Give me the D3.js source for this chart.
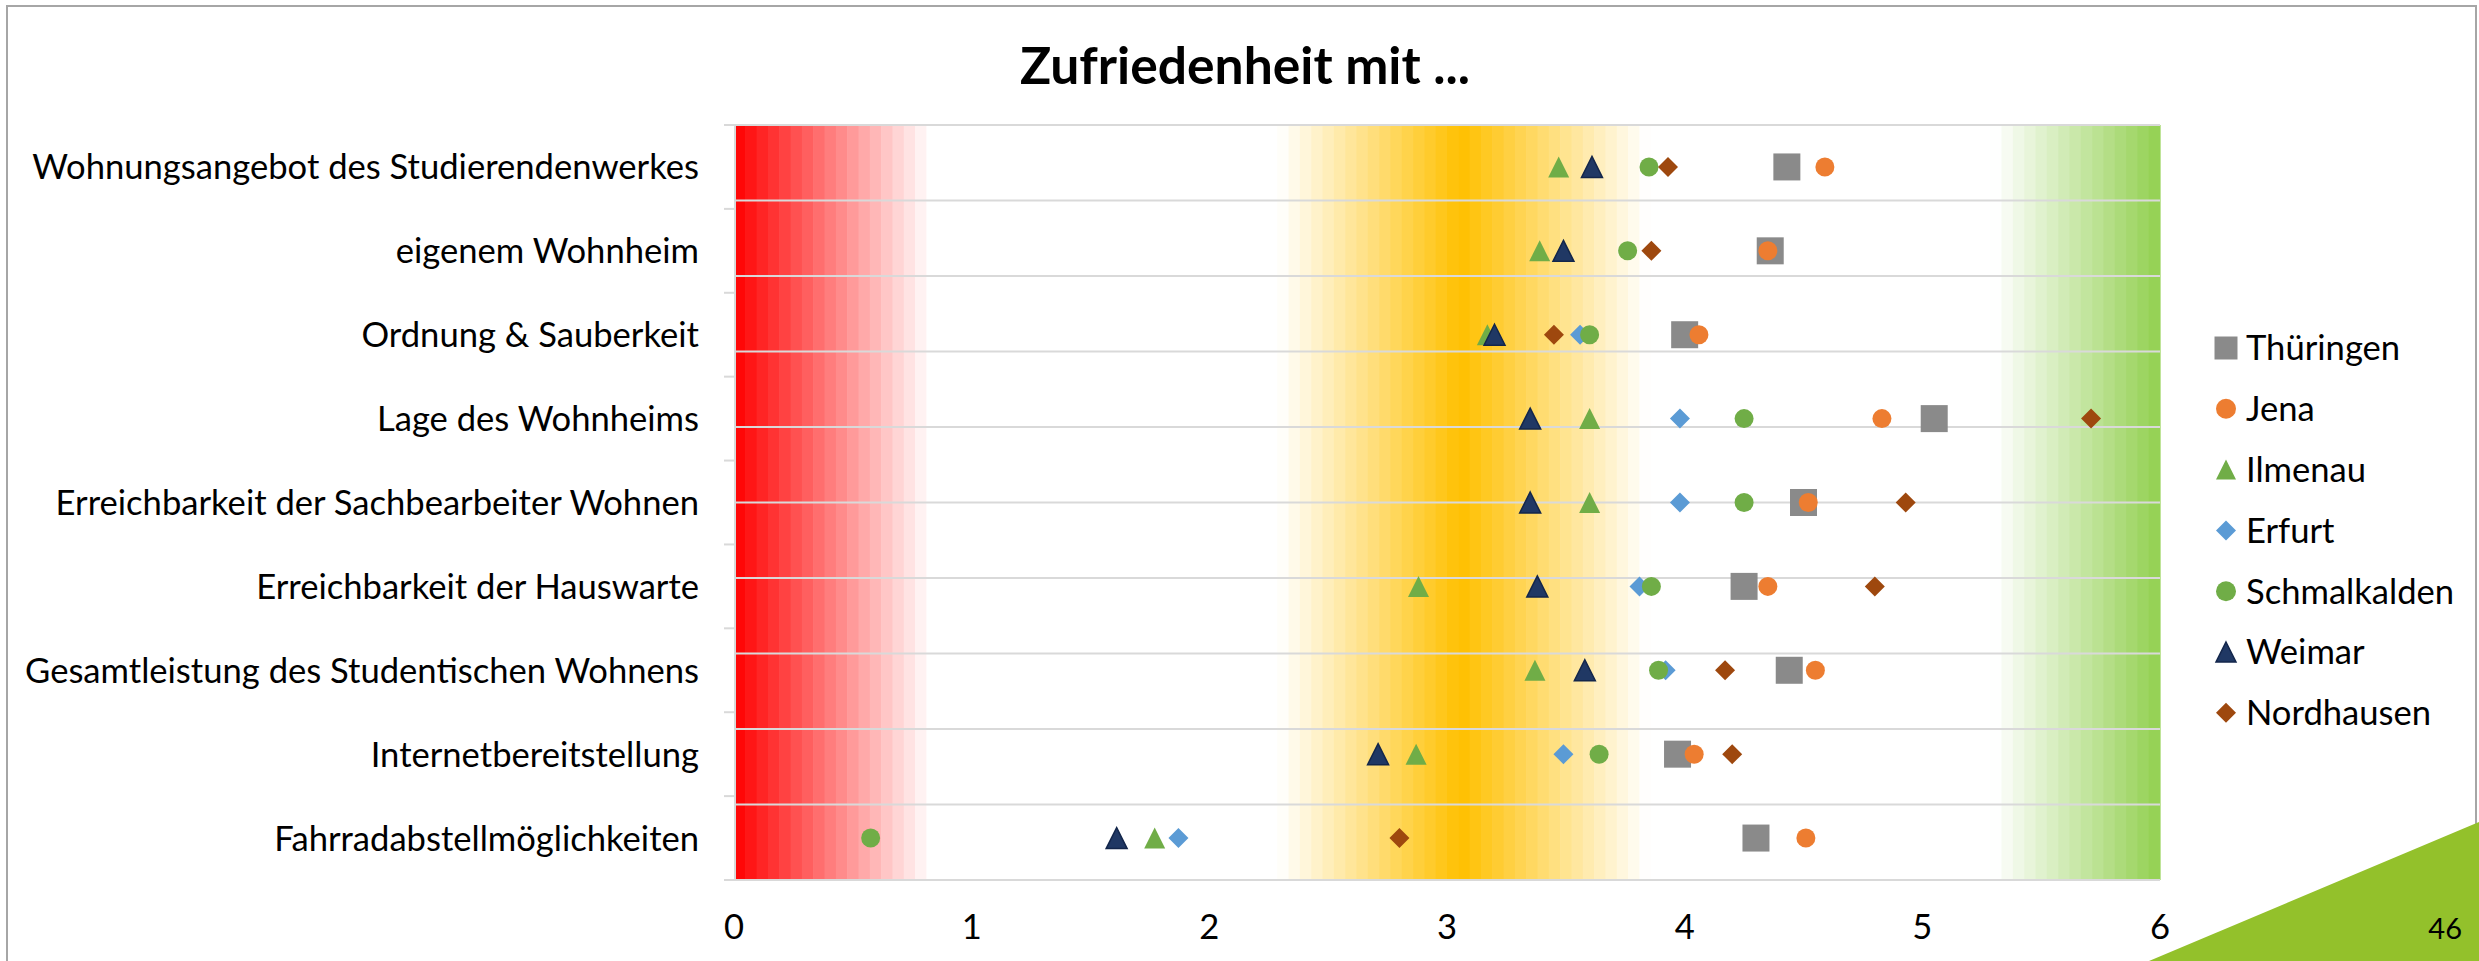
<!DOCTYPE html>
<html>
<head>
<meta charset="utf-8">
<script src="https://cdn.jsdelivr.net/npm/d3@7"></script>
<style>
  html, body { margin: 0; padding: 0; background: #ffffff; }
  svg { display: block; }
</style>
</head>
<body>
<svg id="chart" width="2479" height="961"></svg>
<script>
// ---- data -----------------------------------------------------------------
const chartTitle = "Zufriedenheit mit ...";
const pageNumber = "46";

const categories = [
  "Wohnungsangebot des Studierendenwerkes",
  "eigenem Wohnheim",
  "Ordnung & Sauberkeit",
  "Lage des Wohnheims",
  "Erreichbarkeit der Sachbearbeiter Wohnen",
  "Erreichbarkeit der Hauswarte",
  "Gesamtleistung des Studentischen Wohnens",
  "Internetbereitstellung",
  "Fahrradabstellmöglichkeiten"
];

const seriesNames = ["Thüringen", "Jena", "Ilmenau", "Erfurt", "Schmalkalden", "Weimar", "Nordhausen"];

const thueringen   = [4.43, 4.36, 4.00, 5.05, 4.50, 4.25, 4.44, 3.97, 4.30];
const jena         = [4.59, 4.35, 4.06, 4.83, 4.52, 4.35, 4.55, 4.04, 4.51];
const ilmenau      = [3.47, 3.39, 3.17, 3.60, 3.60, 2.88, 3.37, 2.87, 1.77];
const erfurt       = [null, null, 3.56, 3.98, 3.98, 3.81, 3.92, 3.49, 1.87];
const schmalkalden = [3.85, 3.76, 3.60, 4.25, 4.25, 3.86, 3.89, 3.64, 0.575];
const weimar       = [3.61, 3.49, 3.20, 3.35, 3.35, 3.38, 3.58, 2.71, 1.61];
const nordhausen   = [3.93, 3.86, 3.45, 5.71, 4.93, 4.80, 4.17, 4.20, 2.80];

const xTicks = [0, 1, 2, 3, 4, 5, 6];

// ---- styles ---------------------------------------------------------------
const seriesValues = [thueringen, jena, ilmenau, erfurt, schmalkalden, weimar, nordhausen];
const seriesColors = ["#8a8a8a", "#ed7d31", "#70ad47", "#5b9bd5", "#70ad47", "#203864", "#9e480e"];
const seriesStroke = [null, null, null, null, null, "#13264b", null];
const seriesShapes = ["square", "circle", "triangle", "diamond", "circle", "triangle", "diamond"];
const plotSizes    = { square: 27, circle: 19, triangle: 21, diamond: 20 };
const legendSizes  = { square: 23, circle: 20, triangle: 20, diamond: 20 };

const series = seriesNames.map((name, i) => ({
  name, values: seriesValues[i], color: seriesColors[i], stroke: seriesStroke[i], shape: seriesShapes[i]
}));

const FONT = "Lato, 'Open Sans', sans-serif";
const W = 2479, H = 961;
const plot = { left: 734, right: 2160, top: 125, bottom: 880 };

const svg = d3.select("#chart");

// font sizes fitted to the intended text widths
function fitSize(text, weight, target) {
  const t = svg.append("text").attr("font-family", FONT).attr("font-weight", weight)
    .attr("font-size", 100).text(text);
  const w = t.node().getComputedTextLength();
  t.remove();
  return 100 * target / w;
}
const labelSize = fitSize(categories[0], "normal", 667);
const titleSize = fitSize(chartTitle, "bold", 450);

// ---- scales ---------------------------------------------------------------
const x = d3.scaleLinear().domain([0, 6]).range([plot.left, plot.right]);
const yBand = d3.scaleBand().domain(categories).range([plot.top, plot.bottom]);
const yGrid = d3.scaleLinear().domain([0, 10]).range([plot.bottom, plot.top]);
const yMid = c => yBand(c) + yBand.bandwidth() / 2;

// frame of the slide
svg.append("rect")
  .attr("x", 7).attr("y", 6).attr("width", 2469).attr("height", 1000)
  .attr("fill", "none").attr("stroke", "#a6a6a6").attr("stroke-width", 2);

// ---- banded background: red -> white -> amber -> white -> green -------------
const plotW = plot.right - plot.left;
const bgColor = d3.scaleLinear()
  .domain([0, 0.138, 0.382, 0.51, 0.64, 0.884, 1])
  .range(["#ff0000", "#ffffff", "#ffffff", "#ffc000", "#ffffff", "#ffffff", "#92d050"])
  .interpolate(d3.interpolateRgb)
  .clamp(true);
const nStripes = 126;
const sw = plotW / nStripes;
svg.append("g").selectAll("rect")
  .data(d3.range(nStripes))
  .join("rect")
  .attr("x", i => plot.left + i * sw)
  .attr("y", plot.top)
  .attr("width", sw + 0.6)
  .attr("height", plot.bottom - plot.top)
  .attr("fill", i => bgColor((i + 0.5) / nStripes));

// ---- horizontal gridlines ---------------------------------------------------
svg.append("g").selectAll("line")
  .data(yGrid.ticks(10))
  .join("line")
  .attr("x1", plot.left).attr("x2", plot.right)
  .attr("y1", d => yGrid(d)).attr("y2", d => yGrid(d))
  .attr("stroke", "#d9d9d9").attr("stroke-width", 2);

// category axis line and boundary ticks
svg.append("line")
  .attr("x1", plot.left + 1).attr("x2", plot.left + 1)
  .attr("y1", plot.top).attr("y2", plot.bottom)
  .attr("stroke", "#d9d9d9").attr("stroke-width", 2);
const bounds = categories.map(c => yBand(c)).concat([plot.bottom]);
svg.append("g").selectAll("line")
  .data(bounds)
  .join("line")
  .attr("x1", plot.left - 10).attr("x2", plot.left + 1)
  .attr("y1", d => d).attr("y2", d => d)
  .attr("stroke", "#d9d9d9").attr("stroke-width", 2);

// category labels
svg.append("g").selectAll("text")
  .data(categories)
  .join("text")
  .attr("x", 699)
  .attr("y", d => yMid(d))
  .attr("dy", "0.36em")
  .attr("text-anchor", "end")
  .attr("font-family", FONT)
  .attr("font-size", labelSize)
  .attr("fill", "#000")
  .text(d => d);

// value axis tick labels
svg.append("g").selectAll("text")
  .data(xTicks)
  .join("text")
  .attr("x", d => x(d))
  .attr("y", 939)
  .attr("text-anchor", "middle")
  .attr("font-family", FONT)
  .attr("font-size", labelSize)
  .attr("fill", "#000")
  .text(d => d);

// ---- markers ----------------------------------------------------------------
function shapePath(shape, s) {
  const p = d3.path(), h = s / 2;
  if (shape === "square") p.rect(-h, -h, s, s);
  else if (shape === "circle") p.arc(0, 0, h, 0, 2 * Math.PI);
  else if (shape === "triangle") { p.moveTo(0, -h); p.lineTo(h, h); p.lineTo(-h, h); p.closePath(); }
  else if (shape === "diamond") { p.moveTo(0, -h); p.lineTo(h, 0); p.lineTo(0, h); p.lineTo(-h, 0); p.closePath(); }
  return p.toString();
}

const markers = svg.append("g");
series.forEach(s => {
  const pts = categories.map((c, i) => ({ c, v: s.values[i] })).filter(d => d.v != null);
  markers.append("g").selectAll("path")
    .data(pts)
    .join("path")
    .attr("transform", d => `translate(${x(d.v)},${yMid(d.c)})`)
    .attr("d", shapePath(s.shape, plotSizes[s.shape]))
    .attr("fill", s.color)
    .attr("stroke", s.stroke || "none")
    .attr("stroke-width", s.stroke ? 1.5 : 0);
});

// ---- legend -----------------------------------------------------------------
const legend = svg.append("g").attr("transform", "translate(2226,348)");
const row = legend.selectAll("g")
  .data(series)
  .join("g")
  .attr("transform", (d, i) => `translate(0,${i * 60.8})`);
row.append("path")
  .attr("d", d => shapePath(d.shape, legendSizes[d.shape]))
  .attr("fill", d => d.color)
  .attr("stroke", d => d.stroke || "none")
  .attr("stroke-width", d => d.stroke ? 1.5 : 0);
row.append("text")
  .attr("x", 20)
  .attr("dy", "0.36em")
  .attr("font-family", FONT)
  .attr("font-size", labelSize)
  .attr("fill", "#000")
  .text(d => d.name);

// ---- title ------------------------------------------------------------------
svg.append("text")
  .attr("x", 1245).attr("y", 84)
  .attr("text-anchor", "middle")
  .attr("font-family", FONT)
  .attr("font-weight", "bold")
  .attr("font-size", titleSize)
  .attr("fill", "#000")
  .text(chartTitle);

// ---- slide corner ------------------------------------------------------------
svg.append("path")
  .attr("d", "M2149,961L2479,822L2479,961Z")
  .attr("fill", "#93c12b");
svg.append("text")
  .attr("x", 2462).attr("y", 939)
  .attr("text-anchor", "end")
  .attr("font-family", FONT)
  .attr("font-size", labelSize * 0.84)
  .attr("fill", "#000")
  .text(pageNumber);
</script>
</body>
</html>
